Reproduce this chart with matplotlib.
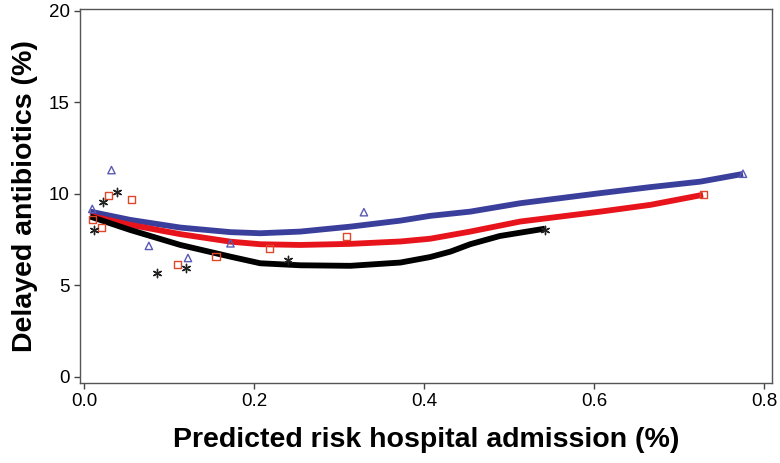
import numpy as np
import matplotlib.pyplot as plt
from matplotlib import font_manager

# fitted (smoothed) curves
blue_x = [0.007, 0.054, 0.113, 0.172, 0.207, 0.254, 0.313, 0.372, 0.407, 0.454, 0.513, 0.607, 0.666, 0.725, 0.775]
blue_y = [9.03, 8.58, 8.16, 7.91, 7.85, 7.94, 8.21, 8.54, 8.80, 9.03, 9.49, 10.04, 10.37, 10.67, 11.09]
red_x = [0.007, 0.054, 0.113, 0.172, 0.207, 0.254, 0.313, 0.372, 0.407, 0.454, 0.513, 0.607, 0.666, 0.728]
red_y = [8.80, 8.31, 7.80, 7.39, 7.25, 7.21, 7.27, 7.40, 7.55, 7.94, 8.49, 9.03, 9.40, 9.95]
black_x = [0.007, 0.054, 0.113, 0.172, 0.207, 0.254, 0.313, 0.372, 0.407, 0.431, 0.454, 0.489, 0.542]
black_y = [8.76, 8.03, 7.21, 6.57, 6.21, 6.10, 6.07, 6.25, 6.55, 6.85, 7.25, 7.70, 8.10]

# observed points
tri_x = [0.0094, 0.032, 0.076, 0.122, 0.172, 0.329, 0.775]
tri_y = [9.18, 11.3, 7.16, 6.5, 7.3, 9.0, 11.1]
sq_x = [0.0094, 0.020, 0.028, 0.056, 0.11, 0.155, 0.218, 0.309, 0.728]
sq_y = [8.58, 8.14, 9.9, 9.67, 6.12, 6.6, 7.0, 7.65, 9.95]
st_x = [0.012, 0.022, 0.038, 0.085, 0.12, 0.24, 0.542]
st_y = [8.0, 9.56, 10.1, 5.7, 5.94, 6.4, 8.05]

names = {f.name for f in font_manager.fontManager.ttflist}
tick_font = 'Liberation Sans Narrow' if 'Liberation Sans Narrow' in names else 'Liberation Sans'

fig = plt.figure(figsize=(7.8, 4.63), dpi=100)
ax = fig.add_axes([0.1026, 0.1728, 0.887, 0.8078])

ax.plot(blue_x, blue_y, color='#3b3f9c', lw=4.2, solid_joinstyle='round', solid_capstyle='butt', zorder=2)
ax.plot(red_x, red_y, color='#e8141c', lw=4.2, solid_joinstyle='round', solid_capstyle='butt', zorder=3)
ax.plot(black_x, black_y, color='black', lw=4.2, solid_joinstyle='round', solid_capstyle='butt', zorder=4)

ax.scatter(tri_x, tri_y, marker='^', s=28, facecolors='none', edgecolors='#5a5ab4', linewidths=1, zorder=5)
ax.scatter(sq_x, sq_y, marker='s', s=26, facecolors='none', edgecolors='#e0462a', linewidths=1, zorder=5)
ax.scatter(st_x, st_y, marker=(6, 2, 0), s=36, color='#222222', linewidths=1, zorder=5)

ax.set_xlim(-0.005, 0.809)
ax.set_ylim(-0.33, 20.1)
ax.set_xticks([0.0, 0.2, 0.4, 0.6, 0.8])
ax.set_xticklabels(['0.0', '0.2', '0.4', '0.6', '0.8'])
ax.set_yticks([0, 5, 10, 15, 20])
ax.tick_params(direction='out', length=4, width=1, labelsize=13.5, color='#444444')
for lab in ax.get_xticklabels() + ax.get_yticklabels():
    lab.set_fontfamily(tick_font)
for s in ax.spines.values():
    s.set_color('#555555')
    s.set_linewidth(1)

ax.set_xlabel('Predicted risk hospital admission (%)', fontsize=20.5, fontweight='bold',
              family='Liberation Sans', labelpad=12)
ax.set_ylabel('Delayed antibiotics (%)', fontsize=20.5, fontweight='bold',
              family='Liberation Sans', labelpad=8)

fig.savefig('out.png', dpi=100)
